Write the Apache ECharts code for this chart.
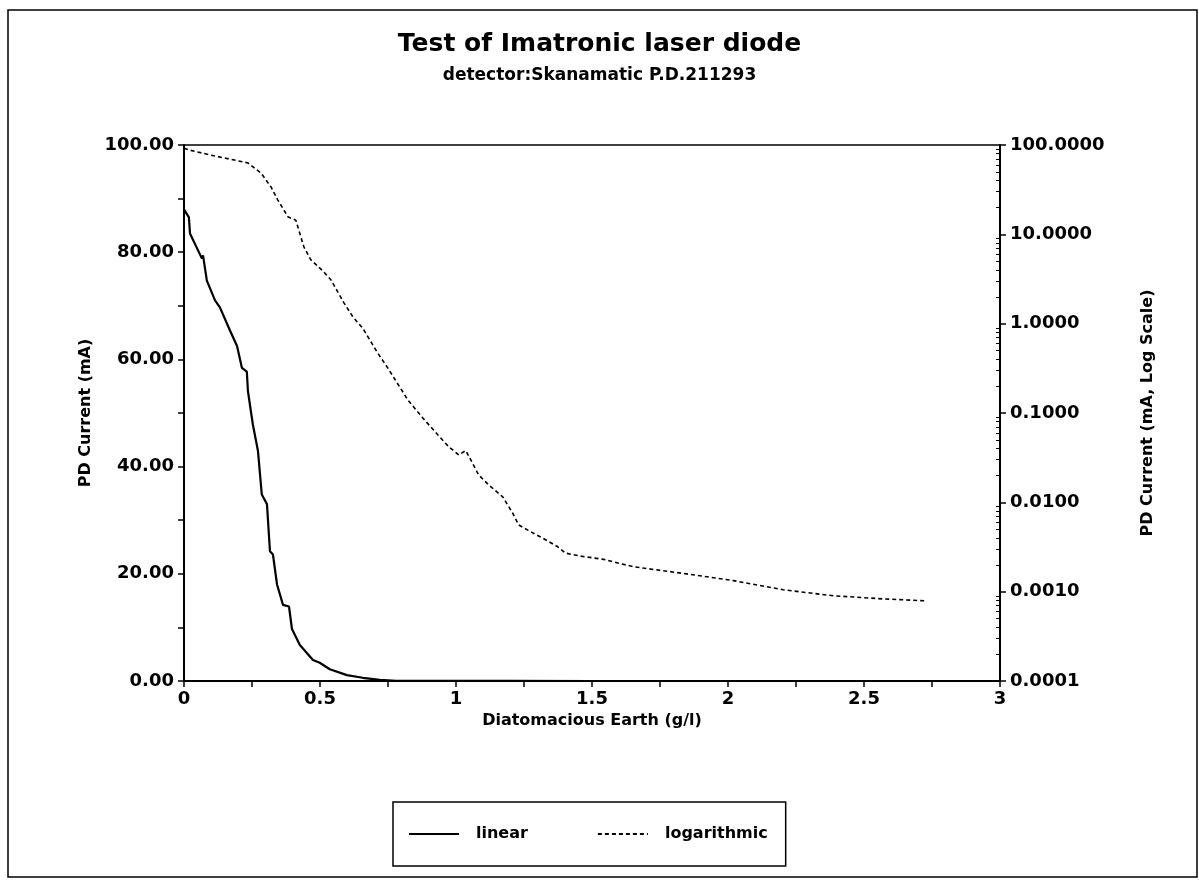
<!DOCTYPE html>
<html>
<head>
<meta charset="utf-8">
<script src="https://cdn.jsdelivr.net/npm/echarts@6/dist/echarts.min.js"></script>
<style>
  html, body { margin: 0; padding: 0; background: #fff; }
  #chart { width: 1199px; height: 884px; }
</style>
</head>
<body>
<div id="chart"></div>
<script>
// ---- data ----
const linearX = [0.0, 0.018, 0.022, 0.066, 0.070, 0.084, 0.114, 0.132, 0.169, 0.195, 0.213, 0.231, 0.235, 0.253, 0.272, 0.286, 0.305, 0.316, 0.327, 0.342, 0.364, 0.386, 0.397, 0.426, 0.474, 0.499, 0.536, 0.599, 0.657, 0.72, 0.78, 0.9, 1.0, 1.2, 1.5, 2.0, 2.5, 2.73];
const linearY = [88.0, 86.5, 83.5, 78.8, 79.4, 74.7, 71.0, 69.7, 65.4, 62.5, 58.4, 57.7, 54.1, 47.9, 42.9, 34.8, 33.0, 24.2, 23.6, 18.0, 14.2, 13.9, 9.7, 6.7, 3.9, 3.4, 2.2, 1.1, 0.6, 0.2, 0.05, 0.02, 0.01, 0.005, 0.003, 0.002, 0.001, 0.001];

const logX = [0.0, 0.018, 0.099, 0.235, 0.283, 0.320, 0.345, 0.382, 0.411, 0.441, 0.466, 0.514, 0.540, 0.588, 0.621, 0.657, 0.712, 0.749, 0.771, 0.823, 0.878, 0.933, 0.973, 1.010, 1.036, 1.054, 1.083, 1.120, 1.172, 1.208, 1.230, 1.285, 1.311, 1.373, 1.403, 1.458, 1.542, 1.652, 1.836, 2.020, 2.203, 2.387, 2.571, 2.725];
const logY = [92, 88, 77, 63, 48.6, 33.9, 24.2, 15.7, 14.4, 7.2, 5.2, 3.8, 3.1, 1.71, 1.19, 0.89, 0.47, 0.32, 0.25, 0.14, 0.088, 0.057, 0.042, 0.034, 0.038, 0.030, 0.0203, 0.0157, 0.0115, 0.0076, 0.0056, 0.0045, 0.0041, 0.0032, 0.0027, 0.0025, 0.0023, 0.0019, 0.0016, 0.00133, 0.00105, 0.0009, 0.00083, 0.00079];

const xTicks = [0, 0.5, 1, 1.5, 2, 2.5, 3];
const leftTicks = [0, 20, 40, 60, 80, 100];
const rightTicks = [0.0001, 0.001, 0.01, 0.1, 1, 10, 100];
const rightMinorTicks = [];
for (let e = -4; e < 2; e++) {
  for (let m = 2; m <= 9; m++) rightMinorTicks.push(+(m * Math.pow(10, e)).toPrecision(3));
}

const seriesLinear = linearX.map((x, i) => [x, linearY[i]]);
const seriesLog = logX.map((x, i) => [x, logY[i]]);

const FONT = 'DejaVu Sans';
const chart = echarts.init(document.getElementById('chart'), null, { renderer: 'canvas' });

chart.setOption({
  animation: false,
  backgroundColor: '#fff',
  title: [
    { text: 'Test of Imatronic laser diode', left: 'center', top: 27,
      textStyle: { fontFamily: FONT, fontSize: 25, fontWeight: 'bold', color: '#000' } },
    { text: 'detector:Skanamatic P.D.211293', left: 'center', top: 62,
      textStyle: { fontFamily: FONT, fontSize: 17, fontWeight: 'bold', color: '#000' } }
  ],
  graphic: [
    { type: 'rect', shape: { x: 8, y: 10, width: 1189, height: 867 },
      style: { fill: 'none', stroke: '#000', lineWidth: 1.5 }, silent: true }
  ],
  grid: { left: 184, right: 199, top: 145, bottom: 203, show: true, borderColor: '#000', borderWidth: 1.5, backgroundColor: 'transparent' },
  legend: {
    left: 393, top: 802,
    padding: [24, 18, 24, 15],
    itemGap: 69,
    itemWidth: 50, itemHeight: 14,
    borderColor: '#000', borderWidth: 1.5,
    itemStyle: { opacity: 0, borderWidth: 0 },
    textStyle: { fontFamily: FONT, fontSize: 16, fontWeight: 'bold', color: '#000', padding: [0, 0, 0, 12] },
    data: ['linear', 'logarithmic']
  },
  xAxis: {
    type: 'value', min: 0, max: 3, interval: 0.5,
    name: 'Diatomacious Earth (g/l)', nameLocation: 'middle', nameGap: 30,
    nameTextStyle: { fontFamily: FONT, fontSize: 16, fontWeight: 'bold', color: '#000' },
    axisLine: { show: true, lineStyle: { color: '#000', width: 2 } },
    axisTick: { show: true, length: 6, lineStyle: { color: '#000', width: 1.5 } },
    minorTick: { show: true, splitNumber: 2, length: 6, lineStyle: { color: '#000', width: 1.5 } },
    axisLabel: { fontFamily: FONT, fontSize: 18, fontWeight: 'bold', color: '#000', margin: 9,
      formatter: v => String(v) },
    splitLine: { show: false }
  },
  yAxis: [
    {
      type: 'value', min: 0, max: 100, interval: 20, position: 'left',
      name: 'PD Current (mA)', nameLocation: 'middle', nameGap: 88,
      nameTextStyle: { fontFamily: FONT, fontSize: 16, fontWeight: 'bold', color: '#000' },
      axisLine: { show: true, lineStyle: { color: '#000', width: 2 } },
      axisTick: { show: true, length: 6, lineStyle: { color: '#000', width: 1.5 } },
      minorTick: { show: true, splitNumber: 2, length: 6, lineStyle: { color: '#000', width: 1.5 } },
      axisLabel: { fontFamily: FONT, fontSize: 18, fontWeight: 'bold', color: '#000', margin: 10,
        formatter: v => v.toFixed(2) },
      splitLine: { show: false }
    },
    {
      type: 'log', logBase: 10, min: 0.0001, max: 100, position: 'right',
      name: 'PD Current (mA, Log Scale)', nameLocation: 'middle', nameGap: 140,
      nameRotate: 90,
      nameTextStyle: { fontFamily: FONT, fontSize: 16, fontWeight: 'bold', color: '#000' },
      axisLine: { show: true, onZero: false, lineStyle: { color: '#000', width: 2 } },
      axisTick: { show: true, length: 6, customValues: rightTicks, lineStyle: { color: '#000', width: 1.5 } },
      axisLabel: { fontFamily: FONT, fontSize: 18, fontWeight: 'bold', color: '#000', margin: 10,
        customValues: rightTicks, formatter: v => Number(v).toFixed(4) },
      splitLine: { show: false }
    },
    {
      type: 'log', logBase: 10, min: 0.0001, max: 100, position: 'right',
      axisLine: { show: false },
      axisTick: { show: true, inside: true, length: 4, customValues: rightMinorTicks, lineStyle: { color: '#000', width: 1 } },
      axisLabel: { show: false },
      splitLine: { show: false }
    }
  ],
  series: [
    {
      name: 'linear', type: 'line', xAxisIndex: 0, yAxisIndex: 0,
      data: seriesLinear, showSymbol: false, symbol: 'none', smooth: false,
      lineStyle: { color: '#000', width: 2.2, type: 'solid' },
      itemStyle: { color: '#000' }
    },
    {
      name: 'logarithmic', type: 'line', xAxisIndex: 0, yAxisIndex: 1,
      data: seriesLog, showSymbol: false, symbol: 'none', smooth: false,
      lineStyle: { color: '#000', width: 1.6, type: [4, 3] },
      itemStyle: { color: '#000' }
    }
  ]
});
</script>
</body>
</html>
